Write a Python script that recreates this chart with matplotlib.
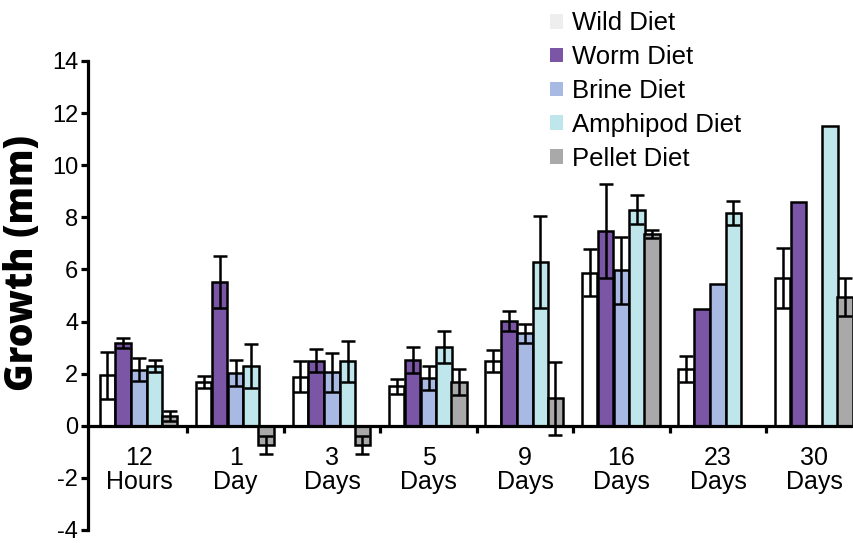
import matplotlib
matplotlib.use("Agg")
import matplotlib.pyplot as plt
import numpy as np
from matplotlib.patches import Patch

categories = ["12\nHours", "1\nDay", "3\nDays", "5\nDays", "9\nDays", "16\nDays", "23\nDays", "30\nDays"]
series = ["Wild Diet", "Worm Diet", "Brine Diet", "Amphipod Diet", "Pellet Diet"]

wild = [1.93, 1.68, 1.89, 1.51, 2.49, 5.88, 2.17, 5.66]
wild_err = [0.9, 0.24, 0.6, 0.28, 0.43, 0.9, 0.49, 1.15]
worm = [3.17, 5.51, 2.5, 2.53, 4.03, 7.48, 4.47, 8.57]
worm_err = [0.19, 1.0, 0.45, 0.5, 0.38, 1.8, np.nan, np.nan]
brine = [2.15, 2.02, 2.05, 1.83, 3.55, 5.96, 5.43, np.nan]
brine_err = [0.45, 0.5, 0.74, 0.45, 0.36, 1.3, np.nan, np.nan]
amphipod = [2.3, 2.3, 2.47, 3.02, 6.3, 8.29, 8.16, 11.5]
amphipod_err = [0.23, 0.85, 0.8, 0.62, 1.77, 0.55, 0.47, np.nan]
pellet = [0.38, -0.75, -0.75, 1.68, 1.06, 7.36, np.nan, 4.94]
pellet_err = [0.2, 0.35, 0.35, 0.5, 1.4, 0.14, np.nan, 0.72]

values = [wild, worm, brine, amphipod, pellet]
errors = [wild_err, worm_err, brine_err, amphipod_err, pellet_err]
colors = ["#ffffff", "#7b55a6", "#a8b9e3", "#bfe6ea", "#a9a9a9"]
legend_colors = ["#eeeeee", "#7b55a6", "#a8b9e3", "#bfe6ea", "#a9a9a9"]

plt.rcParams['font.family'] = ['Liberation Sans', 'DejaVu Sans']

fig = plt.figure(figsize=(8.54, 5.43), dpi=100)
ax = fig.add_axes([88/854, 13/543, (854-88)/854, (530-61)/543])

x = np.arange(len(categories))
width = 0.16
offsets = [-0.33, -0.165, 0.0, 0.16, 0.315]
for vals, errs, col, off in zip(values, errors, colors, offsets):
    ax.bar(x + off, vals, width, color=col, edgecolor="black", linewidth=1.8, zorder=2)
    ax.errorbar(x + off, vals, yerr=errs, fmt="none", ecolor="black",
                elinewidth=1.8, capsize=5, capthick=1.8, zorder=3)

ax.set_xlim(-0.53, 7.41)
ax.set_ylim(-4, 14)
ax.set_yticks(np.arange(-4, 15, 2))
ax.set_yticklabels([str(v) for v in range(-4, 15, 2)], fontsize=17)
ax.set_xticks(np.arange(0.5, 7.5, 1))
ax.set_xticklabels([])

for s in ["top", "right"]:
    ax.spines[s].set_visible(False)
ax.spines["bottom"].set_position(("data", 0))
ax.spines["bottom"].set_linewidth(2.3)
ax.spines["left"].set_linewidth(2.3)
ax.spines["bottom"].set_zorder(4)
ax.tick_params(axis="y", direction="out", length=5, width=2.3, pad=2)
ax.tick_params(axis="x", direction="out", length=5, width=2.3)

for xi, lab in zip(x, categories):
    ax.text(xi, -0.78, lab, ha="center", va="top", fontsize=18, linespacing=1.0)

fig.text(23/854, 1 - 263/543, "Growth (mm)", rotation=90, ha="center", va="center",
         fontsize=27, fontweight="extra bold", family=["Open Sans", "DejaVu Sans"])

handles = [Patch(facecolor=c, edgecolor="none") for c in legend_colors]
fig.legend(handles, series, loc="upper left", bbox_to_anchor=(532/854, 1.012),
           frameon=False, fontsize=18.5, handlelength=0.5, handleheight=0.5,
           handletextpad=0.35, labelspacing=0.38, borderpad=0.2)

fig.savefig("out.png", dpi=100)
